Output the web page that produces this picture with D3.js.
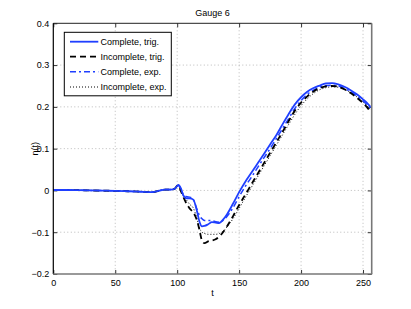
<!DOCTYPE html>
<html><head><meta charset="utf-8">
<script src="https://cdn.jsdelivr.net/npm/d3@7"></script>
<style>body{margin:0;background:#fff}svg{display:block}text{font-family:"Liberation Sans",Arial,sans-serif}</style>
</head><body>
<svg id="c" width="411" height="309"></svg>
<script>
const t = [0,10,20,30,40,50,60,70,80,85,90,95,98,100,101,103,105,108,110,113,116,118,120,122,125,128,131,134,137,140,145,150,155,160,165,170,175,180,185,190,195,200,205,210,215,220,225,230,235,240,245,250,253,256];
const pre = [0.001,0.001,0.0005,0,-0.0005,-0.001,-0.002,-0.003,-0.004,-0.001,0.002,0.002,0.004];
const completeTrig = pre.concat([0.011,0.013,0.005,-0.012,-0.019,-0.019,-0.022,-0.05,-0.075,-0.086,-0.085,-0.081,-0.076,-0.077,-0.078,-0.07,-0.058,-0.032,-0.004,0.021,0.043,0.065,0.087,0.11,0.132,0.158,0.183,0.206,0.223,0.236,0.245,0.251,0.256,0.257,0.254,0.248,0.24,0.23,0.218,0.21,0.2]);
const incompleteTrig = pre.concat([0.011,0.012,-0.002,-0.016,-0.034,-0.043,-0.053,-0.072,-0.095,-0.12,-0.126,-0.122,-0.12,-0.117,-0.11,-0.1,-0.087,-0.062,-0.035,-0.01,0.015,0.04,0.065,0.09,0.115,0.14,0.166,0.191,0.21,0.225,0.237,0.245,0.249,0.25,0.248,0.242,0.233,0.222,0.209,0.2,0.188]);
const completeExp = pre.concat([0.011,0.012,0.003,-0.01,-0.015,-0.016,-0.022,-0.045,-0.06,-0.068,-0.072,-0.072,-0.072,-0.075,-0.076,-0.072,-0.063,-0.042,-0.015,0.01,0.032,0.055,0.078,0.1,0.124,0.148,0.172,0.196,0.215,0.23,0.24,0.247,0.251,0.252,0.25,0.244,0.236,0.226,0.214,0.206,0.197]);
const incompleteExp = pre.concat([0.011,0.012,-0.003,-0.013,-0.025,-0.033,-0.042,-0.068,-0.09,-0.1,-0.103,-0.105,-0.105,-0.105,-0.103,-0.098,-0.088,-0.068,-0.043,-0.017,0.008,0.033,0.058,0.083,0.108,0.133,0.158,0.182,0.203,0.219,0.232,0.241,0.246,0.248,0.247,0.242,0.234,0.224,0.212,0.203,0.193]);
const seriesNames = ["Complete, trig.","Incomplete, trig.","Complete, exp.","Incomplete, exp."];
const xTicks = [0,50,100,150,200,250];
const yTicks = [-0.2,-0.1,0,0.1,0.2,0.3,0.4];

const svg = d3.select("#c");
const L=53.3,R=371.7,T=23.3,B=274;
const x = d3.scaleLinear().domain([0,257]).range([L,R]);
const y = d3.scaleLinear().domain([-0.2,0.4]).range([B,T]);

// grid
const g = svg.append("g");
g.selectAll(".vg").data(xTicks.filter(d=>d>0)).join("line")
 .attr("x1",d=>x(d)).attr("x2",d=>x(d)).attr("y1",T).attr("y2",B)
 .attr("stroke","#aaa").attr("stroke-width",0.8).attr("stroke-dasharray","1,2.5");
g.selectAll(".hg").data(yTicks.filter(d=>d>-0.2&&d<0.4)).join("line")
 .attr("x1",L).attr("x2",R).attr("y1",d=>y(d)).attr("y2",d=>y(d))
 .attr("stroke","#aaa").attr("stroke-width",0.8).attr("stroke-dasharray","1,2.5");

// axes
const fmt = d=> d===0 ? "0" : (d<0 ? "\u2212"+Math.abs(d).toFixed(1) : d.toFixed(1));
const xa = d3.axisBottom(x).tickValues(xTicks).tickSize(-4).tickPadding(6).tickFormat(d3.format("d"));
const xat = d3.axisTop(x).tickValues(xTicks).tickSize(-4).tickFormat("");
const ya = d3.axisLeft(y).tickValues(yTicks).tickSize(-4).tickPadding(4).tickFormat(fmt);
const yar = d3.axisRight(y).tickValues(yTicks).tickSize(-4).tickFormat("");
function style(sel){sel.select(".domain").remove();sel.selectAll("line").attr("stroke","#333");sel.selectAll("text").attr("font-size",9).attr("fill","#000").attr("font-family","Liberation Sans, Arial, sans-serif");}
svg.append("g").attr("transform",`translate(0,${B})`).call(xa).call(style);
svg.append("g").attr("transform",`translate(0,${T})`).call(xat).call(style);
svg.append("g").attr("transform",`translate(${L},0)`).call(ya).call(style);
svg.append("g").attr("transform",`translate(${R},0)`).call(yar).call(style);

// lines
const data=[completeTrig,incompleteTrig,completeExp,incompleteExp];
const styles=[
 {c:"#1f3fff",w:1.8,d:null},
 {c:"#000",w:1.8,d:"6,4"},
 {c:"#1f3fff",w:1.5,d:"6,3,2,3"},
 {c:"#000",w:1,d:"1,2"}];
const line = d3.line().x((d,i)=>x(t[i])).y(d=>y(d)).curve(d3.curveMonotoneX);
const order=[3,2,1,0];
order.forEach(k=>{
 svg.append("path").attr("d",line(data[k])).attr("fill","none")
  .attr("stroke",styles[k].c).attr("stroke-width",styles[k].w)
  .attr("stroke-dasharray",styles[k].d);
});

// frame
svg.append("line").attr("x1",L).attr("x2",R).attr("y1",T).attr("y2",T).attr("stroke","#222").attr("stroke-width",1);
svg.append("line").attr("x1",L).attr("x2",L).attr("y1",T).attr("y2",B).attr("stroke","#000").attr("stroke-width",1.2);
svg.append("line").attr("x1",L).attr("x2",R+0.5).attr("y1",B).attr("y2",B).attr("stroke","#777").attr("stroke-width",1.6);
svg.append("line").attr("x1",R).attr("x2",R).attr("y1",T).attr("y2",B).attr("stroke","#777").attr("stroke-width",1.6);

// legend
const lg = svg.append("g");
lg.append("rect").attr("x",64.3).attr("y",32.3).attr("width",107).attr("height",63.5).attr("fill","#fff").attr("stroke","#000").attr("stroke-width",1);
const ly=[41.7,56.7,71.7,87];
seriesNames.forEach((n,k)=>{
 lg.append("line").attr("x1",70).attr("x2",98.3).attr("y1",ly[k]).attr("y2",ly[k])
  .attr("stroke",styles[k].c).attr("stroke-width",styles[k].w).attr("stroke-dasharray",styles[k].d);
 lg.append("text").attr("x",100.5).attr("y",ly[k]+3.2).attr("font-size",9).text(n);
});

// titles
svg.append("text").attr("x",(L+R)/2).attr("y",16).attr("text-anchor","middle").attr("font-size",9).text("Gauge 6");
svg.append("text").attr("x",(L+R)/2).attr("y",296).attr("text-anchor","middle").attr("font-size",9).text("t");
svg.append("text").attr("transform",`translate(38,${(T+B)/2}) rotate(-90)`).attr("text-anchor","middle").attr("font-size",9).text("\u03b7(t)");
</script>
</body></html>
